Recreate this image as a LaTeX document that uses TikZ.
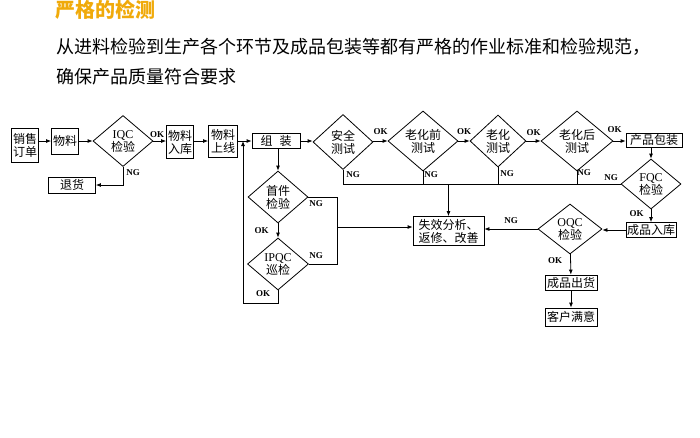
\documentclass[tikz,border=0pt]{standalone}
\usepackage{fontspec}
\setmainfont{Liberation Serif}
\newfontfamily\cjk{Noto Sans CJK SC}
\usetikzlibrary{shapes.geometric, arrows.meta}
\definecolor{titleorange}{RGB}{240,170,10}

\begin{document}
\begin{tikzpicture}[
    x=1pt, y=-1pt,
    box/.style={
        rectangle,
        draw=black,
        line width=0.8pt,
        inner sep=1pt,
        align=center,
        font=\cjk\fontsize{12}{13}\selectfont
    },
    check/.style={
        diamond,
        draw=black,
        line width=0.8pt,
        inner sep=0pt,
        align=center,
        minimum width=60pt,
        minimum height=52pt,
        font=\cjk\fontsize{12}{13}\selectfont
    },
    flow/.style={
        -{Latex[length=5pt, width=4pt]},
        line width=0.8pt
    },
    wire/.style={
        line width=0.8pt
    },
    tag/.style={
        font=\fontsize{9}{9}\selectfont\bfseries,
        inner sep=0pt
    }
]
    \useasboundingbox (0,0) rectangle (700,437);

    % HEADING
    \node[font=\cjk\fontsize{20}{20}\selectfont\bfseries, text=titleorange] (title) at (105,10) {严格的检测};
    \node[font=\cjk\fontsize{18}{20}\selectfont, anchor=west] (line1) at (53,47) {从进料检验到生产各个环节及成品包装等都有严格的作业标准和检验规范，};
    \node[font=\cjk\fontsize{18}{20}\selectfont, anchor=west] (line2) at (53,77) {确保产品质量符合要求};

    % INCOMING MATERIAL
    \node[box, minimum width=27pt, minimum height=34pt] (order) at (25,145) {销售\\订单};
    \node[box, minimum width=27pt, minimum height=26pt] (mat) at (65,141) {物料};
    \node[check, minimum height=51pt] (iqc) at (123,141) {{\rmfamily IQC}\\检验};
    \node[box, minimum width=47pt, minimum height=16pt] (ret) at (72,185) {退货};
    \node[box, minimum width=27pt, minimum height=33pt] (store) at (180,142) {物料\\入库};
    \node[box, minimum width=29pt, minimum height=32pt] (online) at (223,141) {物料\\上线};

    % PRODUCTION LINE
    \node[box, minimum width=48pt, minimum height=15pt] (asm) at (276,141) {组\hspace{7pt}装};
    \node[check] (first) at (278,197) {首件\\检验};
    \node[check, minimum width=61pt] (ipqc) at (278,264) {{\rmfamily IPQC}\\巡检};
    \node[check, minimum height=55pt] (safe) at (343,142) {安全\\测试};
    \node[check, minimum width=70pt, minimum height=57pt] (preage) at (423,141) {老化前\\测试};
    \node[check, minimum width=56pt] (age) at (498,141) {老化\\测试};
    \node[check, minimum width=72pt] (postage) at (577,141) {老化后\\测试};

    % PACKING AND SHIPPING
    \node[box, minimum width=56pt, minimum height=14pt] (pack) at (654,140) {产品包装};
    \node[check, minimum height=50pt] (fqc) at (651,184) {{\rmfamily FQC}\\检验};
    \node[box, minimum width=50pt, minimum height=15pt] (instock) at (651,230) {成品入库};
    \node[check, minimum width=64pt, minimum height=50pt] (oqc) at (570,229) {{\rmfamily OQC}\\检验};
    \node[box, minimum width=71pt, minimum height=29pt] (fail) at (448.5,231) {失效分析、\\返修、改善};
    \node[box, minimum width=52pt, minimum height=15pt] (ship) at (571,282.5) {成品出货};
    \node[box, minimum width=52pt, minimum height=18pt] (happy) at (571,317) {客户满意};

    % HELPER POINTS
    \coordinate (bus) at (0,184);
    \coordinate (ngx) at (337,0);
    \coordinate (ngmid) at (337,227);
    \coordinate (back) at (243,141);

    % MAIN FLOW
    \draw[flow] (order.east |- mat) -- (mat);
    \draw[flow] (mat) -- (iqc);
    \draw[flow] (iqc) -- (store.west |- iqc) node[tag, above=3pt, pos=0.3] {OK};
    \draw[flow] (iqc.south) |- (ret) node[tag, pos=0.15, right=3pt] {NG};
    \draw[flow] (store.east |- online) -- (online);
    \draw[flow] (online) -- (asm);
    \draw[flow] (asm) -- (safe.west |- asm);
    \draw[flow] (safe.east |- preage) -- (preage) node[tag, midway, above=6pt] {OK};
    \draw[flow] (preage) -- (age) node[tag, midway, above=6pt] {OK};
    \draw[flow] (age) -- (postage) node[tag, midway, above=5pt] {OK};
    \draw[flow] (postage.east) -- (pack.west |- postage.east) node[tag, pos=0.1, above=8pt] {OK};
    \draw[flow] (pack.south -| fqc) -- (fqc.north);
    \draw[flow] (fqc) -- (instock) node[tag, pos=0.3, left=7pt] {OK};
    \draw[flow] (instock) -- (oqc.east |- instock);
    \draw[flow] (oqc.west) -- (fail.east |- oqc.west) node[tag, midway, above=5pt] {NG};
    \draw[flow] (oqc) -- (ship) node[tag, pos=0.3, left=8pt] {OK};
    \draw[flow] (ship) -- (happy);

    % ASSEMBLY CHECKS
    \draw[flow] (asm.south -| first) -- (first.north);
    \draw[flow] (first) -- (ipqc) node[tag, midway, left=9pt] {OK};
    \draw[wire] (first.east) -- (first.east -| ngx) -- (ipqc.east -| ngx) -- (ipqc.east);
    \node[tag] at (316,204) {NG};
    \node[tag] at (316,256) {NG};
    \draw[flow] (ngmid) -- (ngmid -| fail.west);
    \draw[flow] (ipqc.south) -- ++(0,13) -| (back);
    \node[tag] at (263,294) {OK};

    % NG BUS TO FAILURE ANALYSIS
    \draw[wire] (safe.south) -- (safe.south |- bus) -- (fqc.west);
    \draw[wire] (preage.south) -- (preage.south |- bus);
    \draw[wire] (age.south) -- (age.south |- bus);
    \draw[wire] (postage.south) -- (postage.south |- bus);
    \draw[flow] (fail.north |- bus) -- (fail.north);
    \node[tag] at (353,175) {NG};
    \node[tag] at (431,175) {NG};
    \node[tag] at (507,174) {NG};
    \node[tag] at (584,173) {NG};
    \node[tag] at (611,178) {NG};

\end{tikzpicture}
\end{document}
